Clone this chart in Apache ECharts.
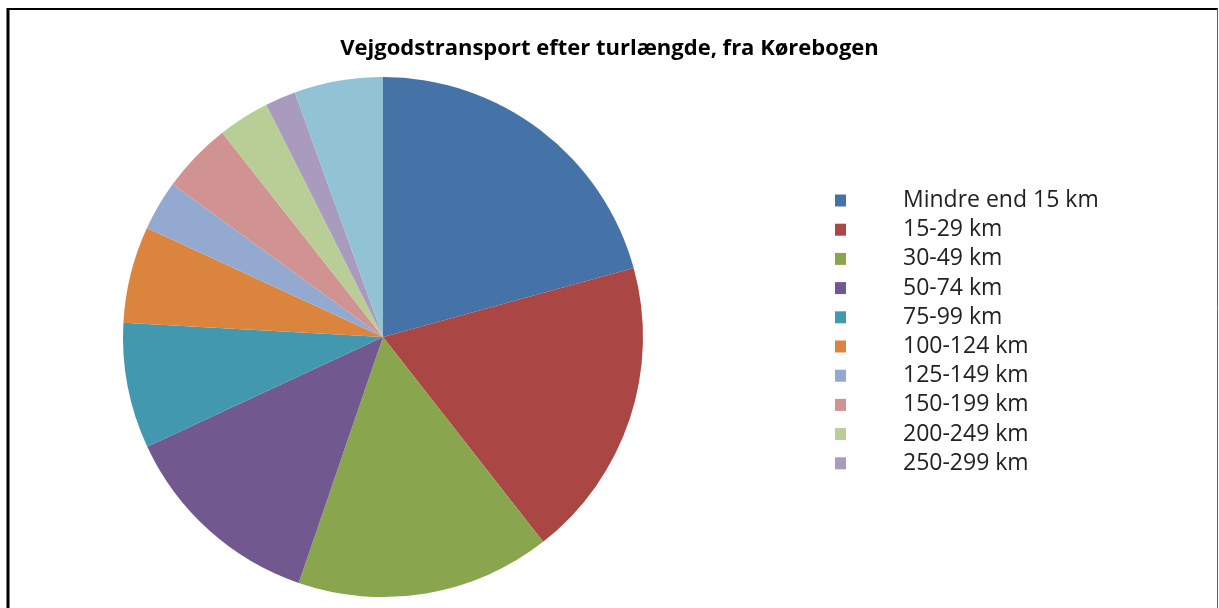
<!DOCTYPE html>
<html><head><meta charset="utf-8">
<script src="https://cdn.jsdelivr.net/npm/echarts@6/dist/echarts.min.js"></script>
<style>html,body{margin:0;padding:0;background:#fff}#c{width:1219px;height:608px}</style>
</head><body><div id="c"></div>
<script>
const categories = ["Mindre end 15 km","15-29 km","30-49 km","50-74 km","75-99 km","100-124 km","125-149 km","150-199 km","200-249 km","250-299 km","300 km og derover"];
const values = [20.7,18.7,15.8,12.8,7.8,6.0,3.1,4.4,3.2,1.9,5.5];
const colors = ["#4572A7","#AA4643","#89A54E","#71588F","#4198AF","#DB843D","#93A9CF","#D19392","#B9CD96","#A99BBD","#92C3D5"];
const legendShown = categories.slice(0,10);

const chart = echarts.init(document.getElementById('c'));
chart.setOption({
  animation:false,
  backgroundColor:'#fff',
  title:{text:'Vejgodstransport efter turlængde, fra Kørebogen',left:'center',top:33,
    textStyle:{fontFamily:'Open Sans',fontSize:22,fontWeight:'bold',color:'#000'}},
  legend:{orient:'vertical',left:830,top:184,data:legendShown,icon:'rect',itemWidth:11,itemHeight:12,itemGap:6.2,
    textStyle:{fontFamily:'Open Sans',fontSize:23,lineHeight:23,color:'#222',padding:[0,0,0,52]}},
  graphic:[
    {type:'line',shape:{x1:8,y1:9,x2:1218,y2:9},style:{stroke:'#000',lineWidth:2}},
    {type:'line',shape:{x1:8,y1:8,x2:8,y2:608},style:{stroke:'#000',lineWidth:3}},
    {type:'line',shape:{x1:1217.5,y1:9,x2:1217.5,y2:608},style:{stroke:'#666',lineWidth:1}}
  ],
  series:[{type:'pie',center:[383,337],radius:[0,260],startAngle:90,clockwise:true,
    label:{show:false},labelLine:{show:false},
    itemStyle:{borderWidth:0},
    emphasis:{disabled:true},
    data:categories.map((n,i)=>({name:n,value:values[i],itemStyle:{color:colors[i]}}))}]
});
</script></body></html>
